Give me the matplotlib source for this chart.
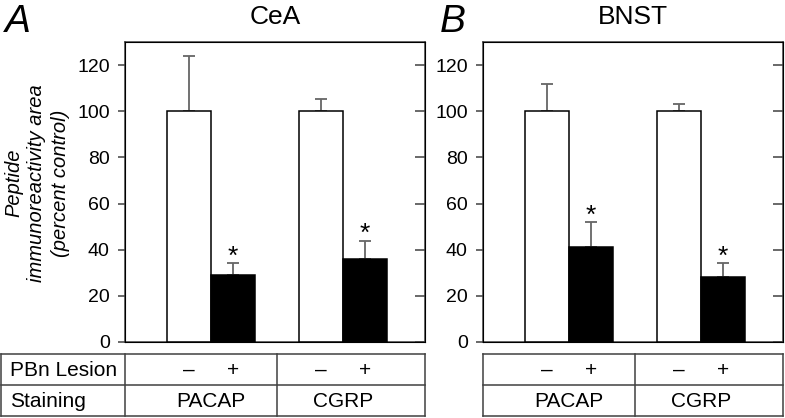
import matplotlib.pyplot as plt
import matplotlib.transforms as mtransforms
from matplotlib.lines import Line2D

plt.rcParams['font.family'] = ['Liberation Sans', 'DejaVu Sans']

# data
regions = ['CeA', 'BNST']
panel_letters = ['A', 'B']
stains = ['PACAP', 'CGRP']
lesion = ['\u2013', '+', '\u2013', '+']
means = {'CeA': [100, 29.2, 100, 36.1], 'BNST': [100, 41.0, 100, 28.0]}
errs = {'CeA': [24.0, 5.0, 5.5, 7.8], 'BNST': [11.7, 10.9, 3.0, 6.1]}
signif = [False, True, False, True]
yticks = [0, 20, 40, 60, 80, 100, 120]

xpos = [0, 1, 3, 4]
bar_colors = ['white', 'black', 'white', 'black']
W, H = 785, 418
spine_col = '#404040'

fig = plt.figure(figsize=(W / 100, H / 100), dpi=100)
# pixel-space background axes for the table
bg = fig.add_axes([0, 0, 1, 1])
bg.set_xlim(0, W)
bg.set_ylim(H, 0)
bg.axis('off')

lefts = [125, 483]
letter_x = [5, 440]
top_px, bot_px = 42, 342
tab_top, tab_mid, tab_bot = 354, 385, 416

for i, reg in enumerate(regions):
    l = lefts[i]
    ax = fig.add_axes([l / W, (H - bot_px) / H, 300 / W, (bot_px - top_px) / H])
    ax.bar(xpos, means[reg], width=1.0, color=bar_colors, edgecolor='black',
           linewidth=1.1, zorder=3)
    ax.errorbar(xpos, means[reg], yerr=[[0] * 4, errs[reg]], fmt='none',
                ecolor='#666666', elinewidth=1.3, capsize=4.5, capthick=1.3,
                zorder=2)
    for x, m, e, s in zip(xpos, means[reg], errs[reg], signif):
        if s:
            ax.annotate('*', (x, m + e), xytext=(0, -4), textcoords='offset points',
                        ha='center', va='bottom', fontsize=19)
    ax.set_xlim(-1.45, 5.37)
    ax.set_ylim(0, 130)
    ax.set_yticks(yticks)
    ax.set_xticks([])
    ax.tick_params(axis='y', direction='out', length=5, width=1.1,
                   color=spine_col, labelsize=14, pad=6)
    for sp in ax.spines.values():
        sp.set_color(spine_col)
        sp.set_linewidth(1.1)
    ax2 = ax.twinx()
    ax2.set_ylim(0, 130)
    ax2.set_yticks(yticks)
    ax2.tick_params(axis='y', direction='in', length=7, width=1.1,
                    color=spine_col, labelright=False)
    ax.set_title(reg, fontsize=19, pad=13)
    fig.text(letter_x[i] / W, 1 - 32 / H, panel_letters[i], fontsize=28,
             style='italic', va='baseline')

    # table
    tr = mtransforms.blended_transform_factory(ax.transData, bg.transData)
    tab_left = 1 if i == 0 else l
    right = l + 300
    for yy in (tab_top, tab_mid, tab_bot):
        bg.add_line(Line2D([tab_left, right], [yy, yy], color=spine_col, lw=1.1))
    for xx in ([tab_left, l, right] if i == 0 else [tab_left, right]):
        bg.add_line(Line2D([xx, xx], [tab_top, tab_bot], color=spine_col, lw=1.1))
    bg.add_line(Line2D([2, 2], [tab_top, tab_bot], color=spine_col, lw=1.1,
                       transform=tr))
    for x, s in zip(xpos, lesion):
        bg.text(x, (tab_top + tab_mid) / 2 + 1, s, transform=tr, ha='center',
                va='center', fontsize=15)
    for k, st in enumerate(stains):
        bg.text((xpos[2 * k] + xpos[2 * k + 1]) / 2, (tab_mid + tab_bot) / 2 + 1, st,
                transform=tr, ha='center', va='center', fontsize=15)

bg.text(10, (tab_top + tab_mid) / 2 + 1, 'PBn Lesion', ha='left', va='center',
        fontsize=15)
bg.text(10, (tab_mid + tab_bot) / 2 + 1, 'Staining', ha='left', va='center',
        fontsize=15)
bg.text(37, 183, 'Peptide\nimmunoreactivity area\n(percent control)',
        rotation=90, ha='center', va='center', multialignment='center',
        fontsize=14.5, style='italic', linespacing=1.3)

fig.savefig('out.png', dpi=100)
